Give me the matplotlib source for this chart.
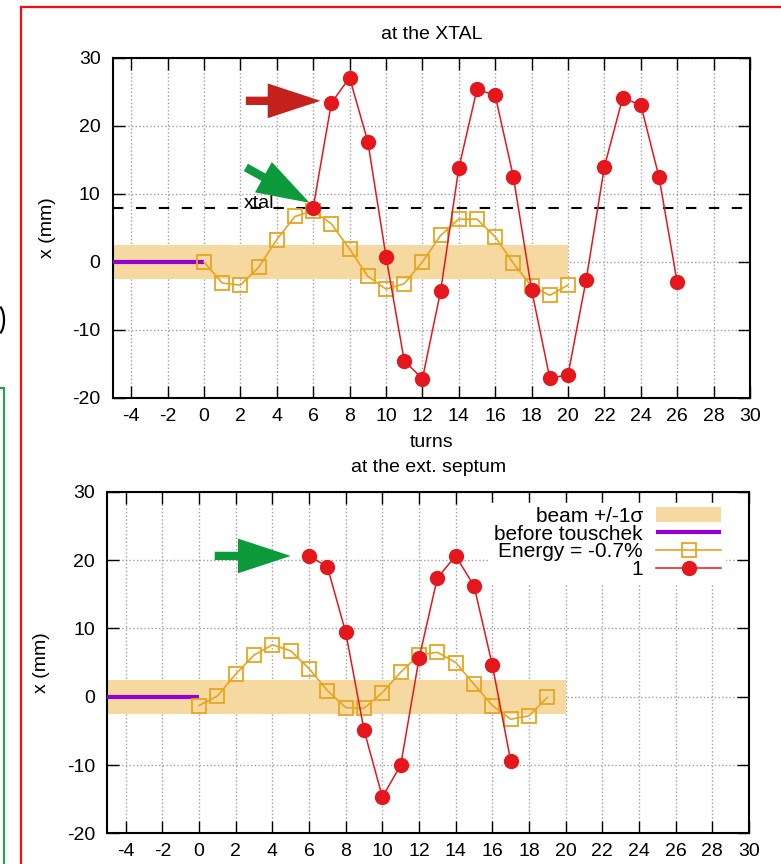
import matplotlib
matplotlib.use("Agg")
import matplotlib.pyplot as plt
from matplotlib.patches import ArrowStyle, Arc
from matplotlib.lines import Line2D

plt.rcParams['font.family'] = ['Liberation Sans', 'DejaVu Sans']
plt.rcParams['font.size'] = 14
plt.rcParams['axes.unicode_minus'] = False

# turn-by-turn horizontal position (mm)
turns_xtal_1 = list(range(6, 27))
x_xtal_1 = [8.0, 23.4, 27.1, 17.7, 0.8, -14.5, -17.2, -4.3, 13.8, 25.4, 24.5,
            12.5, -4.1, -17.1, -16.6, -2.6, 14.0, 24.1, 23.1, 12.5, -3.0]
turns_xtal_e = list(range(0, 21))
x_xtal_e = [0.0, -3.1, -3.4, -0.8, 3.3, 6.7, 7.5, 5.6, 1.9, -2.1, -4.0,
            -3.2, 0.0, 3.9, 6.3, 6.3, 3.7, -0.2, -3.6, -4.9, -3.4]

turns_sept_1 = list(range(6, 18))
x_sept_1 = [20.6, 19.0, 9.4, -4.9, -14.7, -10.0, 5.6, 17.4, 20.6, 16.2, 4.6, -9.4]
turns_sept_e = list(range(0, 20))
x_sept_e = [-1.3, 0.1, 3.3, 6.1, 7.6, 6.7, 4.1, 0.9, -1.6, -1.7, 0.6,
            3.6, 6.1, 6.5, 5.0, 1.8, -1.3, -3.3, -2.8, -0.1]

beam_sigma = 2.5
band_turns = [-5, 20]
before_turns = [-5, 0]
xtal_pos = 8.0

c_red = '#e5171c'
c_orange = '#e8a41e'
c_band = '#f5d9a0'
c_purple = '#9400d3'


def style_axes(ax):
    ax.set_xlim(-5, 30)
    ax.set_ylim(-20, 30)
    ax.set_xticks(range(-4, 31, 2))
    ax.set_yticks(range(-20, 31, 10))
    ax.tick_params(direction='in', length=8.5, width=1, top=True, right=True,
                   labelsize=14)
    ax.tick_params(axis='y', pad=9)
    ax.tick_params(axis='x', pad=7)
    for sp in ax.spines.values():
        sp.set_linewidth(1.5)
    ax.grid(True, color='#a0a0a0', linestyle=':', linewidth=1)
    ax.set_axisbelow(True)
    ax.set_ylabel('x (mm)', labelpad=12)


def draw_panel(ax, t_e, x_e, t_1, x_1):
    ax.fill_between(band_turns, -beam_sigma, beam_sigma, color=c_band,
                    linewidth=0, label='beam +/-1σ', zorder=1.5)
    ax.plot(before_turns, [0, 0], color=c_purple, linewidth=3,
            solid_capstyle='butt', label='before touschek', zorder=3)
    ax.plot(t_e, x_e, color=c_orange, marker='s', markersize=10,
            markerfacecolor='none', markeredgewidth=1.3, linewidth=1.2,
            label='Energy = -0.7%', zorder=4)
    ax.plot(t_1, x_1, color=c_red, marker='o', markersize=10,
            linewidth=1.1, label='1', zorder=5)


def block_arrow(ax, tail, head, color):
    ax.annotate('', xy=head, xytext=tail, zorder=8,
                arrowprops=dict(arrowstyle=ArrowStyle.Simple(head_length=38,
                                                              head_width=25,
                                                              tail_width=6),
                                mutation_scale=1, color=color, linewidth=0,
                                shrinkA=0, shrinkB=0))


fig = plt.figure(figsize=(7.81, 8.64), dpi=100)

# top: at the crystal
ax1 = fig.add_axes([0.1447, 0.5394, 0.8156, 0.3935])
style_axes(ax1)
draw_panel(ax1, turns_xtal_e, x_xtal_e, turns_xtal_1, x_xtal_1)
ax1.axhline(xtal_pos, color='black', linestyle=(0, (5, 6)), linewidth=1.5,
            zorder=3)
ax1.text(2.2, xtal_pos - 0.1, 'xtal', fontsize=14, ha='left', va='baseline',
         zorder=6)
ax1.set_title('at the XTAL', fontsize=14, pad=14)
ax1.set_xlabel('turns', labelpad=7)
block_arrow(ax1, (2.3, 23.7), (6.4, 23.7), '#c4201c')
block_arrow(ax1, (2.3, 13.9), (5.8, 8.7), '#0c9a3a')

# bottom: at the extraction septum
ax2 = fig.add_axes([0.1376, 0.0355, 0.8214, 0.3954])
style_axes(ax2)
draw_panel(ax2, turns_sept_e, x_sept_e, turns_sept_1, x_sept_1)
ax2.set_title('at the ext. septum', fontsize=14, pad=14)
block_arrow(ax2, (0.85, 20.6), (5.0, 20.6), '#0c9a3a')
leg = ax2.legend(loc='upper right', bbox_to_anchor=(0.979, 0.998),
                 markerfirst=False, handlelength=3.1, labelspacing=-0.06,
                 borderpad=0.2, handletextpad=0.65, fontsize=15,
                 frameon=True, fancybox=False, framealpha=1,
                 edgecolor='white', facecolor='white')
leg.set_zorder(10)

# slide frame lines
fig.add_artist(Line2D([0.027, 0.027], [0, 0.992], color='#ee1111', linewidth=1.6))
fig.add_artist(Line2D([0.027, 1.0], [0.992, 0.992], color='#ee1111', linewidth=1.6))
fig.add_artist(Line2D([0.005, 0.005], [0, 0.551], color='#11aa44', linewidth=1.4))
fig.add_artist(Line2D([0, 0.005], [0.551, 0.551], color='#11aa44', linewidth=1.4))
fig.add_artist(Arc((-3 / 781, 1 - 320 / 864), 14 / 781, 30 / 864,
                   theta1=-75, theta2=75, transform=fig.transFigure,
                   color='black', linewidth=1.6))

fig.savefig('out.png', dpi=100)
